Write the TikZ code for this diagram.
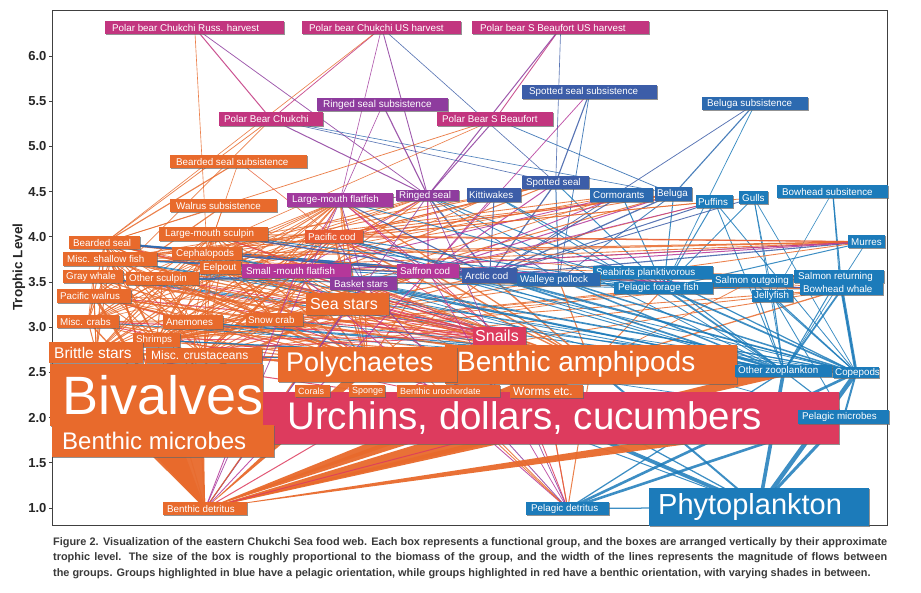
\documentclass[tikz,border=0pt]{standalone}
\usepackage{fontspec}
\setmainfont{Liberation Sans}
\usetikzlibrary{shadows,calc}
\pgfdeclarelayer{back}
\pgfdeclarelayer{bg}
\pgfsetlayers{back,bg,main}
\definecolor{orng}{HTML}{E86A2C}
\definecolor{pcod}{HTML}{E85B33}
\definecolor{urch}{HTML}{DD3B5E}
\definecolor{mag}{HTML}{C2357F}
\definecolor{magb}{HTML}{B5379A}
\definecolor{purp}{HTML}{8E3C9E}
\definecolor{lmf}{HTML}{A23A9E}
\definecolor{slate}{HTML}{3C5DA8}
\definecolor{mblue}{HTML}{2C6AB0}
\definecolor{cblue}{HTML}{1C7BBA}
\definecolor{capc}{HTML}{3A3A3A}
\tikzset{
  box/.style={rectangle, inner ysep=0pt, text=white,
    drop shadow={shadow xshift=0.9pt, shadow yshift=-0.9pt, opacity=.7, fill=black!60}},
  lnk/.style={line cap=round, draw opacity=0.85},
  ticklab/.style={anchor=east, font=\bfseries\fontsize{13}{13}\selectfont, text=black!85},
  captxt/.style={anchor=base west, inner sep=0pt, text=capc, font=\bfseries\fontsize{10.9}{12}\selectfont},
}
\newcommand\bx[9]{%
  \pgfmathsetmacro\bxw{#4-#2}%
  \pgfmathsetmacro\bxh{#5-#3}%
  \pgfmathsetmacro\bxt{#4-#2-2*#8}%
  \colorlet{c#1}{#6}%
  \node[box, fill=#6, minimum width=\bxw pt, minimum height=\bxh pt, inner xsep=#8pt,
        anchor=north west, font=\fontsize{#7}{#7}\selectfont] (#1) at (#2,#3) {\makebox[\bxt pt][l]{#9}};%
}
\newcommand\lk[3]{\draw[lnk, line width=#3*1.25pt, draw=c#2] (#1.center) -- (#2.center);}
\newcommand\wdg[4]{\fill[#4, opacity=.95] (#1.center) -- ($(#2.center)!#3pt!90:(#1.center)$) -- ($(#2.center)!#3pt!-90:(#1.center)$) -- cycle;}
\begin{document}
\begin{tikzpicture}[x=1pt, y=-1pt]
\useasboundingbox (0,0) rectangle (921,593);
\begin{pgfonlayer}{back}
\fill[white] (0,0) rectangle (921,593);
\end{pgfonlayer}
% frame
\draw[black!75, line width=0.9pt] (52.5,10.5) rectangle (887,525.5);
% ticks
\foreach \v/\y [count=\i] in {1.0/508,1.5/462.8,2.0/417.6,2.5/372.4,3.0/327.2,3.5/282,4.0/236.8,4.5/191.6,5.0/146.4,5.5/101.2,6.0/56}{
  \draw[black!75, line width=0.8pt] (49,\y) -- (52.5,\y);
  \node[ticklab] (tk\i) at (50,\y) {\v};
}
\node[rotate=90, font=\bfseries\fontsize{13.5}{13.5}\selectfont, text=black!85] (ylab) at (19,267) {Trophic Level};

% nodes
\bx{PBR}{105}{21}{284}{34}{mag}{9.8}{7}{Polar bear Chukchi Russ. harvest}
\bx{PBU}{302}{21}{461}{34}{mag}{9.8}{7}{Polar bear Chukchi US harvest}
\bx{PBS}{472}{21}{649}{34}{mag}{9.8}{8}{Polar bear S Beaufort US harvest}
\bx{SSS}{522}{85}{657}{99}{slate}{9.8}{7}{Spotted seal subsistence}
\bx{RSS}{317}{98}{448}{111}{purp}{10}{6}{Ringed seal subsistence}
\bx{BLS}{702}{97}{808}{110}{mblue}{9.8}{5}{Beluga subsistence}
\bx{PBC}{219}{112}{323}{126}{mag}{9.8}{5}{Polar Bear Chukchi}
\bx{PBB}{437}{112}{553}{126}{mag}{9.8}{5}{Polar Bear S Beaufort}
\bx{BSS}{170}{155}{307}{168}{orng}{9.8}{6}{Bearded seal subsistence}
\bx{SS}{522}{176}{589}{189}{slate}{9.8}{4}{Spotted seal}
\bx{BHS}{777}{185}{888}{198}{cblue}{9.8}{5}{Bowhead subsitence}
\bx{BL}{655}{187}{692}{201}{mblue}{9.8}{2}{Beluga}
\bx{RS}{396}{190}{459}{201}{purp}{9.8}{3}{Ringed seal}
\bx{KW}{467}{188}{521}{202}{slate}{9.8}{2}{Kittiwakes}
\bx{CM}{590}{188}{653}{202}{mblue}{9.8}{3}{Cormorants}
\bx{GL}{739}{191}{768}{204}{cblue}{9.8}{3}{Gulls}
\bx{LMF}{287}{193}{393}{207}{lmf}{9.8}{5}{Large-mouth flatfish}
\bx{PF}{696}{195}{733}{208}{cblue}{9.8}{2}{Puffins}
\bx{WS}{170}{199}{277}{212}{orng}{9.8}{6}{Walrus subsistence}
\bx{LMS}{159}{227}{268}{241}{orng}{9.8}{6}{Large-mouth sculpin}
\bx{PC}{305}{230}{363}{243}{pcod}{9.8}{3}{Pacific cod}
\bx{BS}{69}{236}{140}{249}{orng}{9.8}{4}{Bearded seal}
\bx{MR}{848}{235}{885}{248}{cblue}{9.8}{3}{Murres}
\bx{CP}{172}{247}{242}{260}{orng}{9.8}{4}{Cephalopods}
\bx{MSF}{63}{252}{157}{266}{orng}{9.8}{4}{Misc. shallow fish}
\bx{EP}{200}{261}{241}{274}{orng}{9.8}{3}{Eelpout}
\bx{SMF}{242}{264}{351}{278}{magb}{9.8}{4}{Small -mouth flatfish}
\bx{SC}{397}{264}{459}{278}{magb}{9.8}{3}{Saffron cod}
\bx{SBP}{593}{266}{713}{279}{cblue}{9.8}{3}{Seabirds planktivorous}
\bx{AC}{462}{268}{517}{283}{slate}{9.8}{3}{Arctic cod}
\bx{GW}{63}{270}{123}{283}{orng}{9.8}{3}{Gray whale}
\bx{SR}{794}{270}{884}{283}{cblue}{9.8}{4}{Salmon returning}
\bx{OS}{126}{272}{199}{285}{orng}{9.8}{3}{Other sculpin}
\bx{WP}{517}{273}{600}{286}{mblue}{9.8}{3}{Walleye pollock}
\bx{SO}{712}{274}{793}{287}{cblue}{9.8}{3}{Salmon outgoing}
\bx{BKS}{330}{277}{397}{290}{purp}{9.8}{4}{Basket stars}
\bx{PFF}{614}{282}{713}{294}{cblue}{9.8}{4}{Pelagic forage fish}
\bx{BW}{800}{283}{883}{295}{cblue}{9.8}{3}{Bowhead whale}
\bx{PW}{57}{289}{131}{303}{orng}{9.8}{3}{Pacific walrus}
\bx{JF}{752}{290}{793}{302}{cblue}{9.8}{2}{Jellyfish}
\bx{SST}{306}{293}{389}{315}{orng}{16}{4}{Sea stars}
\bx{SNC}{246}{313}{303}{326}{orng}{9.8}{2}{Snow crab}
\bx{MC}{57}{315}{119}{328}{orng}{9.8}{3}{Misc. crabs}
\bx{AN}{163}{315}{223}{329}{orng}{9.8}{3}{Anemones}
\bx{SN}{473}{327}{526}{345}{urch}{16}{2}{Snails}
\bx{SH}{133}{333}{180}{347}{orng}{9.8}{3}{Shrimps}
\bx{BA}{445}{345}{737}{384}{orng}{28}{12}{Benthic amphipods}
\bx{PL}{278}{347}{457}{382}{orng}{27}{8}{Polychaetes}
\bx{BRS}{49}{342}{143}{363}{orng}{15.5}{5}{Brittle stars}
\bx{MCR}{146}{348}{262}{363}{orng}{12}{5}{Misc. crustaceans}
\bx{OZ}{735}{365}{832}{377}{cblue}{9.8}{3}{Other zooplankton}
\bx{CPD}{833}{367}{879}{378}{cblue}{9.8}{2}{Copepods}
\bx{BV}{50}{364}{263}{426}{orng}{54}{12}{Bivalves}
\bx{UR}{263}{392}{839}{444}{urch}{38.5}{24}{Urchins, dollars, cucumbers}
\bx{CO}{295}{385}{330}{397}{orng}{9}{3}{Corals}
\bx{SP}{349}{385}{385}{397}{orng}{9}{3}{Sponge}
\bx{BU}{397}{385}{500}{397}{orng}{9}{3}{Benthic urochordate}
\bx{WE}{510}{385}{583}{398}{orng}{11.8}{3}{Worms etc.}
\bx{PM}{798}{410}{889}{424}{cblue}{9.8}{4}{Pelagic microbes}
\bx{BM}{52}{425}{274}{457}{orng}{24}{10}{Benthic microbes}
\bx{PH}{649}{488}{869}{526}{cblue}{29}{9}{Phytoplankton}
\bx{BD}{163}{502}{247}{515}{orng}{9.8}{4}{Benthic detritus}
\bx{PD}{526}{502}{609}{515}{cblue}{9.8}{5}{Pelagic detritus}

% connectors
\begin{pgfonlayer}{bg}
% top predators
\foreach \t/\w in {PBC/.8,RS/.6,CP/.5}{\lk{PBR}{\t}{\w}}
\foreach \t/\w in {PBC/.6,RS/.7,SS/.5,BS/.5,LMF/.5}{\lk{PBU}{\t}{\w}}
\foreach \t/\w in {PBB/.7,RS/.8,SS/.5}{\lk{PBS}{\t}{\w}}
\foreach \t/\w in {RS/.8,BS/.6,PW/.6,BL/.5,SS/.5}{\lk{PBC}{\t}{\w}}
\foreach \t/\w in {RS/.8,BS/.6,BL/.6,PW/.5}{\lk{PBB}{\t}{\w}}
\foreach \t/\w in {RS/.9,LMF/.5}{\lk{RSS}{\t}{\w}}
\foreach \t/\w in {SS/.9,SC/.6,WP/.6}{\lk{SSS}{\t}{\w}}
\foreach \t/\w in {BL/.9,AC/.6,PFF/.6}{\lk{BLS}{\t}{\w}}
\foreach \t/\w in {BS/.9,LMS/.5,PC/.5}{\lk{BSS}{\t}{\w}}
\foreach \t/\w in {PW/.9,BS/.5,CP/.5}{\lk{WS}{\t}{\w}}
\foreach \t/\w in {BW/1,SR/.6,JF/.5}{\lk{BHS}{\t}{\w}}
% mammals and birds
\foreach \t/\w in {CP/.8,MSF/.7,SH/.9,BRS/1,MC/.8,PL/1.1,BV/1.4,AN/.6,BA/1,SNC/.7,SN/.8,SC/.7,AC/1.8,MCR/.7,EP/.6,OS/.6,SST/.7,PFF/.8,WP/.8}{\lk{BS}{\t}{\w}}
\foreach \t/\w in {BV/2.2,PL/1,SN/.9,MC/.7,BA/.9,BRS/.7,SST/.6,UR/.8,WE/.7,SH/.7,SNC/.7,AN/.6}{\lk{PW}{\t}{\w}}
\foreach \t/\w in {BA/1.8,PL/1,MC/.6,MCR/.7,SH/.7,OZ/.8,BRS/.7,SN/.6,AN/.5,CPD/.8}{\lk{GW}{\t}{\w}}
\foreach \t/\w in {AC/1.2,SC/1,SH/.9,PFF/.8,MCR/.8,CP/.7,OZ/.7,LMF/.6,EP/.6,WP/.7,SMF/.6,OS/.6}{\lk{RS}{\t}{\w}}
\foreach \t/\w in {AC/1,SC/.8,PC/.7,SH/.8,CP/.7,PFF/.8,WP/.8,OS/.6,EP/.6}{\lk{SS}{\t}{\w}}
\foreach \t/\w in {AC/1,SC/.8,SH/.8,PFF/.8,CP/.7,MSF/.7,OS/.7,PC/.6,WP/.7}{\lk{BL}{\t}{\w}}
\foreach \t/\w in {AC/.8,PFF/.8,SC/.7,OZ/.7,SH/.6,MSF/.6}{\lk{KW}{\t}{\w}}
\foreach \t/\w in {AC/.8,SC/.7,SMF/.7,PFF/.8,MSF/.7,SH/.6,OS/.6}{\lk{CM}{\t}{\w}}
\foreach \t/\w in {AC/.8,PFF/.8,OZ/.7,CPD/.7,SH/.6,MSF/.6,SC/.6}{\lk{PF}{\t}{\w}}
\foreach \t/\w in {AC/.7,PFF/.7,JF/.6,OZ/.6,CPD/.6,MSF/.6}{\lk{GL}{\t}{\w}}
\foreach \t/\w in {AC/.9,SC/.8,PFF/.8,OS/.7,SH/.7,LMS/.7,PC/.9,MSF/.9,CP/.8,EP/.7,SMF/.7,OZ/.6}{\lk{MR}{\t}{\w}}
\foreach \t/\w in {CPD/2.4,OZ/1.4,BA/1,MCR/.7,SH/.7,MSF/.6,PFF/.6,PL/.7,SC/.6,AC/.7,OS/.6,LMS/.6}{\lk{BW}{\t}{\w}}
\foreach \t/\w in {PFF/.9,OZ/.8,CPD/.8,SH/.6,AC/.7,SC/.6,MSF/.6}{\lk{SR}{\t}{\w}}
\foreach \t/\w in {OZ/.8,CPD/.8,SH/.6,BA/.6}{\lk{SO}{\t}{\w}}
\foreach \t/\w in {OZ/.9,CPD/.9,PM/.7}{\lk{JF}{\t}{\w}}
\foreach \t/\w in {OZ/.9,CPD/1}{\lk{SBP}{\t}{\w}}
% fish and invertebrates
\foreach \t/\w in {OZ/1.4,CPD/1.4,BA/.8,SH/.7,MCR/.6}{\lk{PFF}{\t}{\w}}
\foreach \t/\w in {OZ/1.4,CPD/1.2,BA/1.2,MCR/.8,SH/.9,PL/.7}{\lk{AC}{\t}{\w}}
\foreach \t/\w in {OZ/1.2,CPD/1.2,BA/.9,SH/.8,PFF/.7,AC/.7}{\lk{WP}{\t}{\w}}
\foreach \t/\w in {BA/1.2,PL/1,MCR/.8,SH/.8,OZ/.8,CPD/.7,SST/.6,SNC/.6,BRS/.6,SN/.6}{\lk{SC}{\t}{\w}}
\foreach \t/\w in {SMF/.6,BRS/.8,PL/1,BA/1,SH/.8,CP/.6,AC/.9,MCR/.7,SNC/.7,SC/.7,OS/.6,BV/.7,MC/.6,EP/.6,SST/.6,SN/.6,BKS/.6,AN/.6,PFF/.7}{\lk{LMF}{\t}{\w}}
\foreach \t/\w in {BA/1.1,PL/.9,SH/.9,SNC/.8,MCR/.8,AC/.9,SMF/.6,SC/.7,MC/.7,OZ/.7,BRS/.7,CPD/.6,SST/.6,SN/.6,BV/.6,BKS/.6,PFF/.8}{\lk{PC}{\t}{\w}}
\foreach \t/\w in {BA/1,PL/.9,SH/.9,MC/.8,SNC/.8,BRS/.8,MCR/.8,OS/.6,EP/.6,AN/.6,AC/1.2,SST/.7,SN/.6,BV/.7,PFF/.8}{\lk{LMS}{\t}{\w}}
\foreach \t/\w in {SH/.8,MCR/.8,BA/.9,OZ/.8,PFF/.7,PL/.7,CPD/.6,AC/1,SNC/.6,SST/.6,BRS/.6,MC/.6}{\lk{CP}{\t}{\w}}
\foreach \t/\w in {BA/1,PL/.9,MCR/.8,SH/.8,BV/.7,OZ/.7,AC/1,SNC/.7,SST/.7,AN/.6,MC/.7,BRS/.8,PFF/.7,CPD/.6}{\lk{MSF}{\t}{\w}}
\foreach \t/\w in {BA/1,PL/.9,SH/.8,MCR/.8,BRS/.8,SN/.6,SNC/.6,SST/.6,MC/.6,AN/.5,OZ/.7}{\lk{EP}{\t}{\w}}
\foreach \t/\w in {PL/1.2,BA/1.1,BV/.8,SN/.8,MCR/.7,BRS/.7,WE/.7,SNC/.6,SST/.6,AN/.6,MC/.5,OZ/.6}{\lk{SMF}{\t}{\w}}
\foreach \t/\w in {BA/1,PL/.9,SH/.8,MCR/.8,BRS/.7,MC/.7,AC/1.2,SNC/.7,SST/.7,AN/.6,SN/.6,PFF/.7}{\lk{OS}{\t}{\w}}
\foreach \t/\w in {OZ/.9,CPD/.9,PL/.8,BA/.8,PM/.6,SN/.6,SNC/.6}{\lk{BKS}{\t}{\w}}
\foreach \t/\w in {BV/2.2,SN/1,PL/1,BA/.8,BRS/.8,UR/.8}{\lk{SST}{\t}{\w}}
\foreach \t/\w in {BV/1.1,PL/1,BA/.9,BRS/.8,SN/.8,UR/.7,SH/.7,AN/.6,SNC/.7,OZ/.6}{\lk{MC}{\t}{\w}}
\foreach \t/\w in {OZ/.9,BA/.8,CPD/.8,PM/.6,SH/.6,MCR/.6}{\lk{AN}{\t}{\w}}
\foreach \t/\w in {PL/1,BA/1,BRS/.8,BV/.8,SN/.7,MCR/.7,UR/.7,OZ/.6}{\lk{SNC}{\t}{\w}}
\foreach \t/\w in {PL/.9,BA/1,MCR/.8,OZ/.8,CPD/.7,SN/.6,BRS/.6}{\lk{SH}{\t}{\w}}
\foreach \t/\w in {BA/1.2,PL/1.1,UR/.8,SN/.6,MCR/.7}{\lk{BRS}{\t}{\w}}
\foreach \t/\w in {PL/1,BA/.8,OZ/.7}{\lk{MCR}{\t}{\w}}
\foreach \t/\w in {PM/.9,CPD/.9}{\lk{OZ}{\t}{\w}}
\foreach \t/\w in {PM/1.6}{\lk{CPD}{\t}{\w}}
% phytoplankton
\foreach \t/\w in {UR/3,BA/1.6,CPD/3.6,OZ/2.9,PM/2.4,PD/1,WE/1,BU/.8}{\lk{\t}{PH}{\w}}
% pelagic detritus
\foreach \t/\w in {UR/.8,BA/.8,WE/.7,BU/.7,SN/.7,BKS/.7,SMF/.7,SST/.7,SC/.6,RS/.6}{\lk{PD}{\t}{\w}}
\foreach \t/\w in {PM/2.1,CPD/2.1,OZ/1}{\lk{\t}{PD}{\w}}
% benthic detritus
\wdg{BD}{BV}{50}{orng}
\wdg{BD}{BM}{16}{orng}
\wdg{BD}{UR}{14}{orng}
\wdg{BD}{BA}{11}{orng}
\wdg{BD}{WE}{8}{orng}
\wdg{BD}{PM}{6}{orng}
\wdg{BD}{OZ}{5}{orng}
\wdg{BD}{PL}{5}{orng}
\foreach \t/\w in {BKS/.8,SMF/.7,SC/.7,LMF/.6,RS/.6,UR/.8,SN/.8,SST/.8,SH/.7,AN/.7}{\lk{BD}{\t}{\w}}
\end{pgfonlayer}

% caption
\node[captxt] (cap1) at (53,545) {\makebox[834pt][s]{Figure 2. Visualization of the eastern Chukchi Sea food web. Each box represents a functional group, and the boxes are arranged vertically by their approximate}};
\node[captxt] (cap2) at (53,560.5) {\makebox[834pt][s]{trophic level. The size of the box is roughly proportional to the biomass of the group, and the width of the lines represents the magnitude of flows between}};
\node[captxt] (cap3) at (53,576) {the groups. Groups highlighted in blue have a pelagic orientation, while groups highlighted in red have a benthic orientation, with varying shades in between.};
\end{tikzpicture}
\end{document}
